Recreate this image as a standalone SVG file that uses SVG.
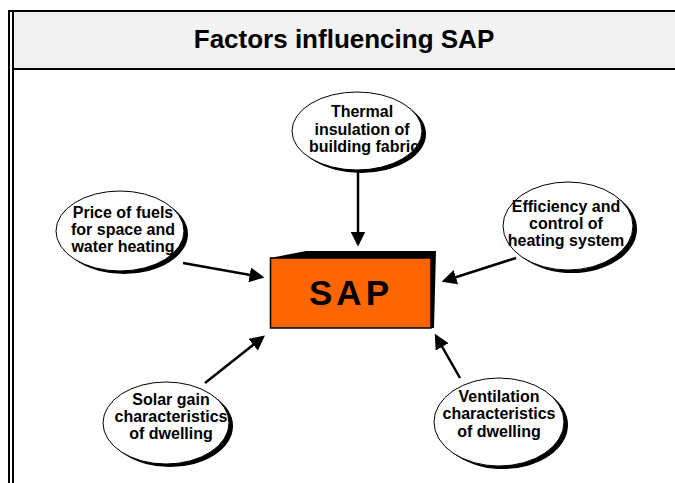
<svg xmlns="http://www.w3.org/2000/svg" width="675" height="483" viewBox="0 0 675 483">
<defs>
<style>
.t{font-family:"Liberation Sans",Arial,sans-serif;font-weight:bold;fill:#000;text-anchor:middle}
.lbl{font-size:16px}
.sh{fill:#000}
.el{fill:#fff;stroke:#000;stroke-width:1}
.con{stroke:#000;stroke-width:2.5;fill:none;marker-end:url(#ah)}
</style>
<marker id="ah" markerWidth="6" markerHeight="6" refX="5" refY="3" orient="auto" markerUnits="strokeWidth" viewBox="0 0 6 6">
<path d="M0,0 L6,3 L0,6 z" fill="#000"/>
</marker>
</defs>
<rect x="0" y="0" width="675" height="483" fill="#fff"/>
<g id="frame">
<rect x="14" y="12" width="661" height="56" fill="#f2f2f2"/>
<rect x="8" y="10" width="667" height="2" fill="#000"/>
<rect x="8" y="10" width="2" height="473" fill="#000"/>
<rect x="12" y="12" width="2" height="471" fill="#000"/>
<rect x="12" y="68" width="663" height="2" fill="#000"/>
<text class="t" x="344" y="48" font-size="26">Factors influencing SAP</text>
</g>
<g id="connectors">
<line class="con" x1="358" y1="172" x2="358" y2="244"/>
<line class="con" x1="183" y1="263" x2="262" y2="277"/>
<line class="con" x1="516" y1="258" x2="444" y2="281"/>
<line class="con" x1="205" y1="383" x2="263" y2="337"/>
<line class="con" x1="460" y1="378" x2="436" y2="336"/>
</g>
<g id="sap">
<polygon points="270,258 306,251 436,251 434,328 431,328 431,258" fill="#000"/>
<rect x="270.5" y="258" width="160.5" height="70" fill="#ff6600" stroke="#000" stroke-width="1.5"/>
<text class="t" x="351" y="305" font-size="35" letter-spacing="4">SAP</text>
</g>
<g id="thermal">
<ellipse class="sh" cx="361" cy="134" rx="65" ry="39"/>
<ellipse class="el" cx="357" cy="131" rx="65" ry="39"/>
<text class="t lbl"><tspan x="362" y="117">Thermal</tspan><tspan x="362" y="134.5">insulation of</tspan><tspan x="364" y="152">building fabric</tspan></text>
</g>
<g id="price">
<ellipse class="sh" cx="124" cy="234" rx="64" ry="40"/>
<ellipse class="el" cx="120" cy="231" rx="64" ry="40"/>
<text class="t lbl"><tspan x="123" y="218">Price of fuels</tspan><tspan x="123" y="235">for space and</tspan><tspan x="123" y="252">water heating</tspan></text>
</g>
<g id="efficiency">
<ellipse class="sh" cx="572" cy="229" rx="65" ry="44"/>
<ellipse class="el" cx="568" cy="226" rx="65" ry="44"/>
<text class="t lbl"><tspan x="566" y="212">Efficiency and</tspan><tspan x="566" y="229">control of</tspan><tspan x="566" y="246">heating system</tspan></text>
</g>
<g id="solar">
<ellipse class="sh" cx="170" cy="426" rx="63" ry="41"/>
<ellipse class="el" cx="166" cy="423" rx="63" ry="41"/>
<text class="t lbl"><tspan x="171" y="405">Solar gain</tspan><tspan x="171" y="422">characteristics</tspan><tspan x="171" y="439">of dwelling</tspan></text>
</g>
<g id="ventilation">
<ellipse class="sh" cx="503" cy="425" rx="65" ry="44"/>
<ellipse class="el" cx="499" cy="422" rx="65" ry="44"/>
<text class="t lbl"><tspan x="499" y="402">Ventilation</tspan><tspan x="499" y="419">characteristics</tspan><tspan x="499" y="437">of dwelling</tspan></text>
</g>
</svg>
